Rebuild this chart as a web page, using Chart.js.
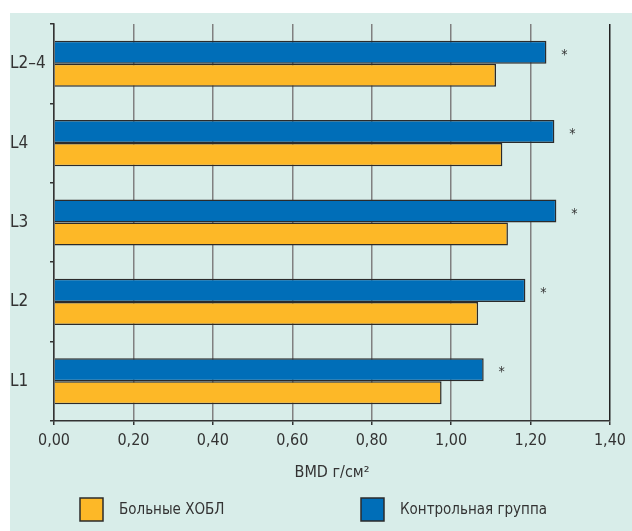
<!DOCTYPE html>
<html>
<head>
<meta charset="utf-8">
<script src="https://cdn.jsdelivr.net/npm/chart.js@4/dist/chart.umd.min.js"></script>
<style>
  html, body { margin: 0; padding: 0; background: #ffffff; }
  #wrap { width: 632px; height: 531px; position: relative; }
</style>
</head>
<body>
<div id="wrap"><canvas id="c" width="632" height="531"></canvas></div>
<script>
// Vertebral segments, top to bottom
const categories = ['L2–4', 'L4', 'L3', 'L2', 'L1'];
// Mean BMD, g/cm²
const controlBMD = [1.240, 1.260, 1.265, 1.187, 1.082];
const copdBMD    = [1.113, 1.129, 1.143, 1.068, 0.976];
// Difference between groups significant (marked with *)
const significant = [true, true, true, true, true];
// X axis ticks
const xTicks = [0, 0.2, 0.4, 0.6, 0.8, 1.0, 1.2, 1.4];

const seriesNames = { copd: 'Больные ХОБЛ', control: 'Контрольная группа' };
const COLORS = { blue: '#006eb8', orange: '#fdb827', bg: '#d8ede9', ink: '#333333', edge: '#2b2b2b' };
const FONT = "'Liberation Sans Narrow', 'DejaVu Sans Condensed', 'Arial Narrow', sans-serif";

const fmt = v => v.toFixed(2).replace('.', ',');

// Panel background
const panelBg = {
  id: 'panelBg',
  beforeDraw(chart) {
    const ctx = chart.ctx;
    ctx.save();
    ctx.fillStyle = COLORS.bg;
    ctx.fillRect(10, 13, chart.width - 10, chart.height - 13);
    ctx.restore();
  }
};

// Significance asterisks after the control-group bars
const stars = {
  id: 'stars',
  afterDatasetsDraw(chart) {
    const meta = chart.getDatasetMeta(0);
    const ctx = chart.ctx;
    ctx.save();
    ctx.fillStyle = COLORS.ink;
    ctx.font = '14px ' + FONT;
    ctx.textAlign = 'center';
    ctx.textBaseline = 'middle';
    meta.data.forEach((bar, i) => {
      if (significant[i]) ctx.fillText('*', bar.x + 18, bar.y + 3);
    });
    ctx.restore();
  }
};

// Legend row under the axis title
const legendRow = {
  id: 'legendRow',
  afterDraw(chart) {
    const ctx = chart.ctx;
    const items = [
      { ds: chart.data.datasets[1], x: 80 },
      { ds: chart.data.datasets[0], x: 361 }
    ];
    ctx.save();
    ctx.font = '15px ' + FONT;
    ctx.textBaseline = 'middle';
    ctx.textAlign = 'left';
    items.forEach(it => {
      ctx.fillStyle = it.ds.backgroundColor;
      ctx.fillRect(it.x, 498, 23, 23);
      ctx.lineWidth = 1.5;
      ctx.strokeStyle = COLORS.edge;
      ctx.strokeRect(it.x, 498, 23, 23);
      ctx.fillStyle = COLORS.ink;
      ctx.fillText(it.ds.label, it.x + 39, 510);
    });
    ctx.restore();
  }
};

new Chart(document.getElementById('c'), {
  type: 'bar',
  data: {
    labels: categories,
    datasets: [
      {
        label: seriesNames.control,
        data: controlBMD,
        backgroundColor: COLORS.blue,
        borderColor: COLORS.edge,
        borderWidth: 1.5
      },
      {
        label: seriesNames.copd,
        data: copdBMD,
        backgroundColor: COLORS.orange,
        borderColor: COLORS.edge,
        borderWidth: 1.5
      }
    ]
  },
  options: {
    indexAxis: 'y',
    responsive: false,
    animation: false,
    devicePixelRatio: 1,
    categoryPercentage: 0.58,
    barPercentage: 1.0,
    layout: { padding: { left: 10, top: 24, right: 20, bottom: 0 } },
    plugins: {
      legend: { display: false },
      tooltip: { enabled: false }
    },
    scales: {
      x: {
        type: 'linear',
        min: 0,
        max: 1.4,
        afterFit(scale) { scale.height = 110; },
        afterBuildTicks(scale) { scale.ticks = xTicks.map(v => ({ value: v })); },
        border: { display: true, color: COLORS.ink, width: 1.5 },
        grid: {
          color: ctx => (ctx.tick && ctx.tick.value === 1.4) ? '#222222' : '#808080',
          lineWidth: 1.5,
          drawTicks: true,
          tickLength: 4,
          tickColor: COLORS.ink
        },
        ticks: {
          color: COLORS.ink,
          font: { family: FONT, size: 16 },
          padding: 6,
          maxRotation: 0,
          callback: v => fmt(v)
        },
        title: {
          display: true,
          text: 'BMD г/см²',
          color: COLORS.ink,
          font: { family: FONT, size: 16 },
          padding: { top: 0, bottom: 49 }
        }
      },
      y: {
        afterFit(scale) { scale.width = 44; },
        border: { display: true, color: COLORS.ink, width: 1.5 },
        grid: {
          drawOnChartArea: false,
          drawTicks: true,
          tickLength: 4,
          offset: true,
          tickColor: COLORS.ink,
          lineWidth: 1.5
        },
        ticks: {
          color: COLORS.ink,
          crossAlign: 'far',
          font: { family: FONT, size: 17 },
          padding: 6
        }
      }
    }
  },
  plugins: [panelBg, stars, legendRow]
});
</script>
</body>
</html>
